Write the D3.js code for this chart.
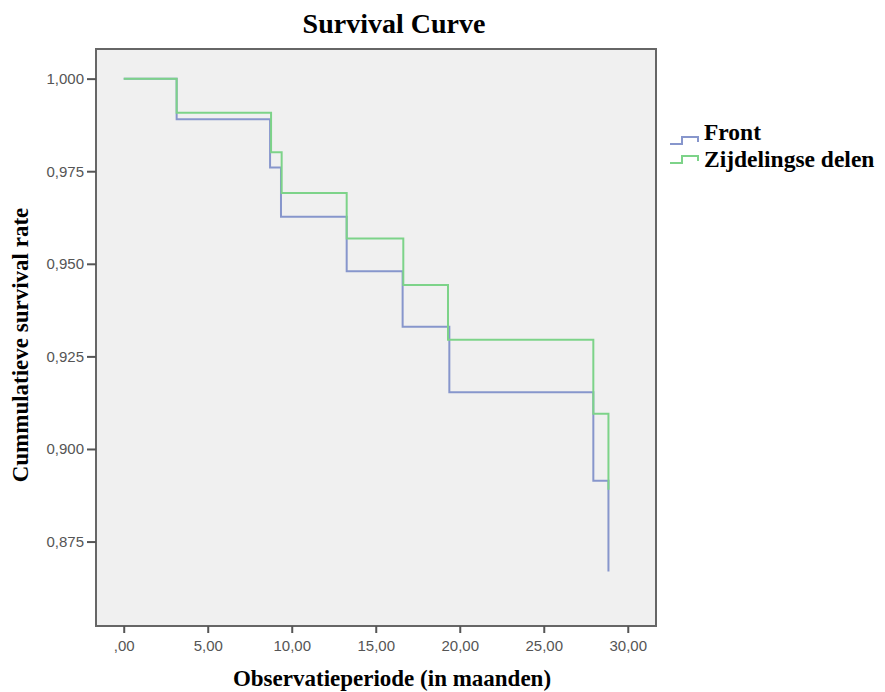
<!DOCTYPE html>
<html>
<head>
<meta charset="utf-8">
<script src="https://cdn.jsdelivr.net/npm/d3@7"></script>
<style>
  body { margin: 0; background: #fff; }
  #chart { width: 885px; height: 692px; }
</style>
</head>
<body>
<div id="chart"></div>
<script>
// survival steps (months, cumulative survival)
const frontTimes = [0, 3.15, 8.71, 9.36, 13.27, 16.6, 19.38, 27.95, 28.85];
const frontSurvival = [1.0, 0.989, 0.976, 0.9627, 0.948, 0.933, 0.9153, 0.8914, 0.8669];
const sideTimes = [0, 3.15, 8.77, 9.4, 13.27, 16.64, 19.3, 27.95, 28.85];
const sideSurvival = [1.0, 0.9908, 0.9801, 0.9691, 0.9568, 0.9443, 0.9295, 0.9095, 0.889];
const seriesNames = ["Front", "Zijdelingse delen"];
const xTicks = [0, 5, 10, 15, 20, 25, 30];
const yTicks = [0.875, 0.9, 0.925, 0.95, 0.975, 1.0];

let draw = () => {
  let width = 885;
  let height = 692;
  let plot = { left: 96, right: 656, top: 49, bottom: 626 };
  let colors = ["#8796cc", "#7dd389"];

  let svg = d3
    .select("#chart")
    .append("svg")
    .attr("width", width)
    .attr("height", height);

  let xScale = d3.scaleLinear().domain([-1.65, 31.68]).range([plot.left, plot.right]);
  let yScale = d3.scaleLinear().domain([0.8522, 1.008]).range([plot.bottom, plot.top]);

  svg
    .append("rect")
    .attr("x", plot.left)
    .attr("y", plot.top)
    .attr("width", plot.right - plot.left)
    .attr("height", plot.bottom - plot.top)
    .attr("fill", "#f0f0f0")
    .attr("stroke", "#666")
    .attr("stroke-width", 2);

  let xAxis = svg
    .append("g")
    .attr("transform", `translate(0, ${plot.bottom})`)
    .call(
      d3
        .axisBottom(xScale)
        .tickValues(xTicks)
        .tickSize(7)
        .tickPadding(7)
        .tickFormat((d) => (d === 0 ? ",00" : d3.format(".2f")(d).replace(".", ",")))
    )
    .call((g) => g.select(".domain").remove());

  let yAxis = svg
    .append("g")
    .attr("transform", `translate(${plot.left}, 0)`)
    .call(
      d3
        .axisLeft(yScale)
        .tickValues(yTicks)
        .tickSize(9)
        .tickPadding(3)
        .tickFormat((d) => d3.format(".3f")(d).replace(".", ","))
    )
    .call((g) => g.select(".domain").remove());

  [xAxis, yAxis].forEach((g) => {
    g.selectAll(".tick line").attr("stroke", "#555").attr("stroke-width", 2);
    g.selectAll(".tick text")
      .attr("fill", "#555")
      .style("font-family", "Arial, 'Liberation Sans', sans-serif")
      .style("font-size", "15px");
  });

  let line = d3
    .line()
    .x((d) => xScale(d[0]))
    .y((d) => yScale(d[1]))
    .curve(d3.curveStepAfter);

  let series = [
    d3.zip(frontTimes, frontSurvival),
    d3.zip(sideTimes, sideSurvival),
  ];

  series.forEach((s, i) => {
    svg
      .append("path")
      .datum(s)
      .attr("d", line)
      .attr("fill", "none")
      .attr("stroke", colors[i])
      .attr("stroke-width", 2);
  });

  let serif = "'Times New Roman', 'Liberation Serif', serif";

  svg
    .append("text")
    .attr("x", 394)
    .attr("y", 33)
    .attr("text-anchor", "middle")
    .style("font-family", serif)
    .style("font-weight", "bold")
    .style("font-size", "28px")
    .text("Survival Curve");

  svg
    .append("text")
    .attr("x", 392)
    .attr("y", 686)
    .attr("text-anchor", "middle")
    .style("font-family", serif)
    .style("font-weight", "bold")
    .style("font-size", "23px")
    .text("Observatieperiode (in maanden)");

  svg
    .append("text")
    .attr("transform", "translate(28, 345) rotate(-90)")
    .attr("text-anchor", "middle")
    .style("font-family", serif)
    .style("font-weight", "bold")
    .style("font-size", "23px")
    .text("Cummulatieve survival rate");

  // legend with little step icons
  let legend = svg.append("g").attr("transform", "translate(670, 0)");
  let iconY = [144, 163];
  let textY = [140, 167];
  seriesNames.forEach((name, i) => {
    let y = iconY[i];
    legend
      .append("path")
      .attr("d", `M0,${y} H12 V${y - 7} H28 V${y - 2}`)
      .attr("fill", "none")
      .attr("stroke", colors[i])
      .attr("stroke-width", 2);
    legend
      .append("text")
      .attr("x", 34)
      .attr("y", textY[i])
      .style("font-family", serif)
      .style("font-weight", "bold")
      .style("font-size", "23.5px")
      .text(name);
  });
};

draw();
</script>
</body>
</html>
